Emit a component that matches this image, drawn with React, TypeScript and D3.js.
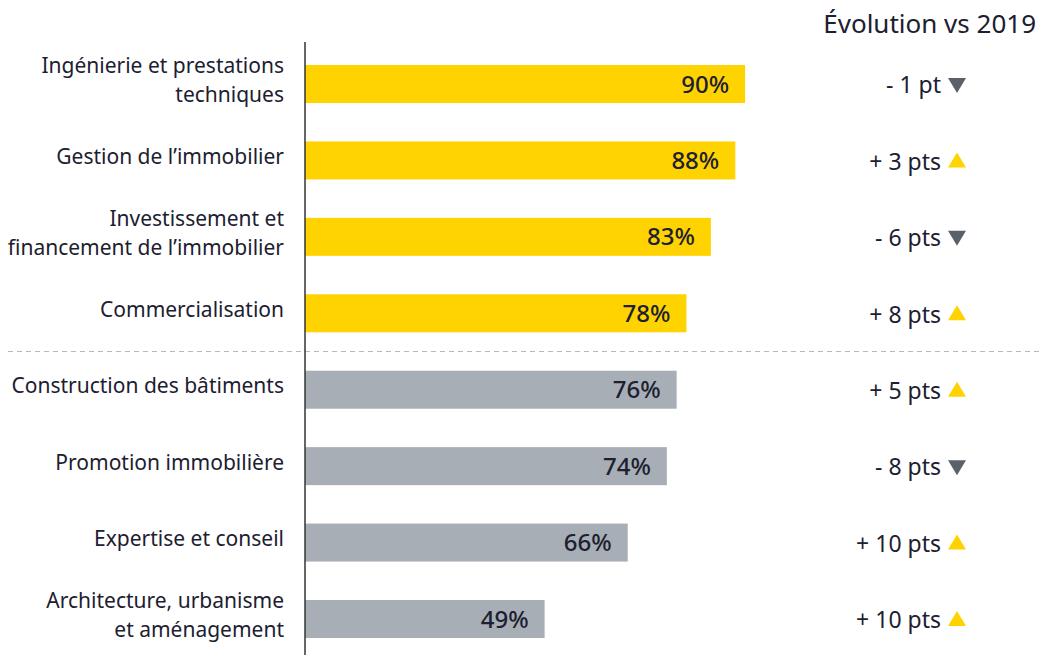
import React from "react";
import * as d3 from "d3";

const categories: string[][] = [
  ["Ingénierie et prestations", "techniques"],
  ["Gestion de l’immobilier"],
  ["Investissement et", "financement de l’immobilier"],
  ["Commercialisation"],
  ["Construction des bâtiments"],
  ["Promotion immobilière"],
  ["Expertise et conseil"],
  ["Architecture, urbanisme", "et aménagement"],
];
const values: number[] = [90, 88, 83, 78, 76, 74, 66, 49];
const evolution: number[] = [-1, 3, -6, 8, 5, -8, 10, 10];
const highlighted: boolean[] = [true, true, true, true, false, false, false, false];
const title = "Évolution vs 2019";

const W = 1041;
const H = 655;
const FONT = "'Noto Sans', 'DejaVu Sans', sans-serif";
const TEXT = "#1c2030";
const YELLOW = "#FFD300";
const GRAY = "#A8AEB5";
const DARK_TRI = "#5B616B";

export default function App() {
  const x = d3.scaleLinear().domain([0, 100]).range([305, 794]);
  const idx = values.map((_, i) => i);
  const y = d3.scalePoint<number>().domain(idx).range([84, 619]);
  const barH = 38;

  const fmtEvo = (v: number) => {
    const sign = v < 0 ? "-" : "+";
    const a = Math.abs(v);
    return `${sign} ${a} ${a === 1 ? "pt" : "pts"}`;
  };

  const sepY = ((y(3) as number) + (y(4) as number)) / 2;

  return (
    <svg
      width={W}
      height={H}
      style={{ position: "absolute", left: 0, top: 0, background: "#fff" }}
      fontFamily={FONT}
    >
      <text x={1036} y={33} textAnchor="end" fontSize={26} fill={TEXT}>
        {title}
      </text>
      <line
        x1={8}
        x2={W}
        y1={sepY}
        y2={sepY}
        stroke="#B5B9BF"
        strokeWidth={1.2}
        strokeDasharray="5,4"
      />
      {idx.map((i) => {
        const cy = y(i) as number;
        const lines = categories[i];
        const lh = 29;
        const startY = cy - 4 - ((lines.length - 1) * lh) / 2;
        const up = evolution[i] > 0;
        const tx = 948;
        const tw = 18;
        const th = 15;
        const tri = up
          ? `M${tx},${cy + 7} L${tx + tw},${cy + 7} L${tx + tw / 2},${cy + 7 - th} Z`
          : `M${tx},${cy - 6} L${tx + tw},${cy - 6} L${tx + tw / 2},${cy - 6 + th} Z`;
        return (
          <g key={i}>
            <rect
              x={x(0)}
              y={cy - barH / 2}
              width={x(values[i]) - x(0)}
              height={barH}
              fill={highlighted[i] ? YELLOW : GRAY}
            />
            <text
              x={x(values[i]) - 16}
              y={cy}
              dy="0.36em"
              textAnchor="end"
              fontSize={24}
              fontWeight={500}
              fill={TEXT}
            >
              {values[i]}%
            </text>
            {lines.map((l, j) => (
              <text
                key={j}
                x={284}
                y={startY + j * lh}
                dy="0.36em"
                textAnchor="end"
                fontSize={21}
                fill={TEXT}
              >
                {l}
              </text>
            ))}
            <text
              x={941}
              y={cy + 1}
              dy="0.36em"
              textAnchor="end"
              fontSize={23}
              fill={TEXT}
            >
              {fmtEvo(evolution[i])}
            </text>
            <path d={tri} fill={up ? YELLOW : DARK_TRI} />
          </g>
        );
      })}
      <line x1={305} x2={305} y1={42} y2={H} stroke="#333" strokeWidth={1.5} />
    </svg>
  );
}
